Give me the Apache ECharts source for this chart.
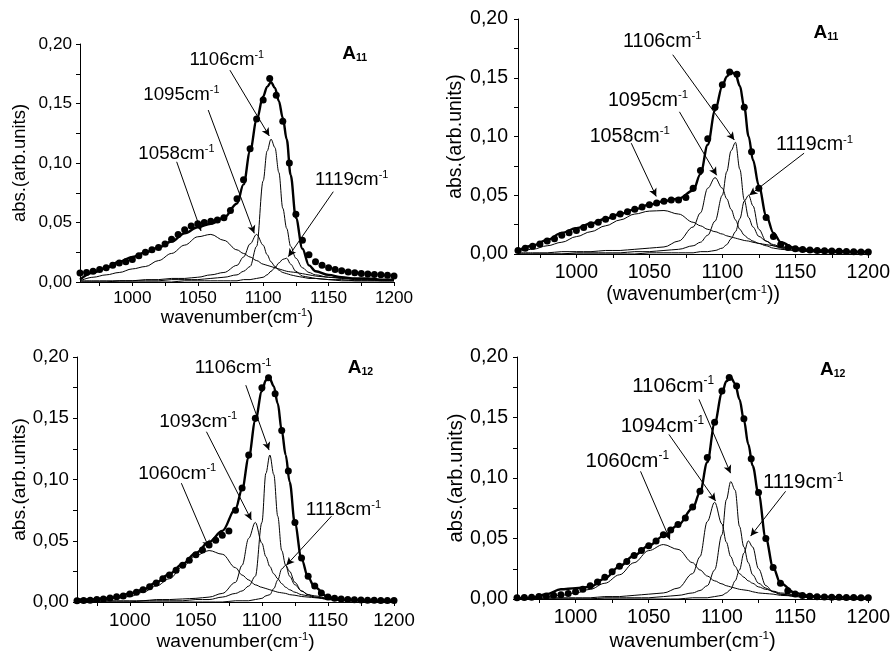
<!DOCTYPE html>
<html><head><meta charset="utf-8">
<script src="https://cdn.jsdelivr.net/npm/echarts@6/dist/echarts.min.js"></script>
<style>html,body{margin:0;padding:0;background:#fff}#c{width:893px;height:655px}</style>
</head><body><div id="c"></div>
<script>
// ---------- shared x grids ----------
const X = [960,970,980,990,1000,1010,1020,1030,1040,1050,1060,1070,1080,1085,1090,1095,1100,1103,1106,1109,1112,1115,1118,1121,1125,1130,1135,1140,1150,1160,1170,1180,1190,1200];
const DOT_X = [960,965,970,975,980,985,990,995,1000,1005,1010,1015,1020,1025,1030,1035,1040,1045,1050,1055,1060,1065,1070,1075,1080,1085,1090,1095,1100,1105,1110,1115,1120,1125,1130,1135,1140,1145,1150,1155,1160,1165,1170,1175,1180,1185,1190,1195,1200];
const X_TICK_LABELS = [1000,1050,1100,1150,1200];
const X_TICKS = [975,1000,1025,1050,1075,1100,1125,1150,1175,1200];
const Y_TICKS = [0,0.025,0.05,0.075,0.1,0.125,0.15,0.175,0.2];

// ---------- panel 1 (top left, A11) ----------
const p1_dots = [0.0075,0.008,0.009,0.0104,0.012,0.014,0.016,0.017,0.019,0.022,0.025,0.027,0.029,0.032,0.036,0.040,0.044,0.047,0.049,0.050,0.051,0.052,0.054,0.060,0.070,0.086,0.112,0.137,0.153,0.171,0.157,0.135,0.100,0.057,0.035,0.023,0.017,0.014,0.012,0.0105,0.0095,0.0085,0.0078,0.0072,0.0068,0.0063,0.006,0.0056,0.005];
const p1_total = [0.002,0.008,0.012,0.017,0.021,0.025,0.029,0.034,0.041,0.046,0.049,0.054,0.066,0.082,0.110,0.136,0.156,0.164,0.168,0.163,0.152,0.138,0.120,0.090,0.054,0.028,0.014,0.009,0.006,0.004,0.003,0.003,0.002,0.002];
const p1_c1058 = [0.001,0.004,0.006,0.008,0.011,0.013,0.018,0.024,0.031,0.038,0.040,0.035,0.027,0.024,0.021,0.018,0.015,0.014,0.013,0.012,0.011,0.010,0.009,0.0085,0.008,0.007,0.006,0.005,0.004,0.0035,0.003,0.0025,0.002,0.002];
const p1_c1095 = [0.001,0.001,0.001,0.001,0.001,0.002,0.002,0.003,0.003,0.004,0.006,0.008,0.014,0.021,0.032,0.040,0.031,0.023,0.017,0.013,0.010,0.008,0.007,0.006,0.005,0.004,0.003,0.003,0.002,0.002,0.001,0.001,0.001,0.001];
const p1_c1106 = [0,0,0,0.001,0.001,0.001,0.001,0.002,0.002,0.002,0.003,0.004,0.006,0.009,0.013,0.030,0.085,0.110,0.120,0.113,0.092,0.062,0.045,0.030,0.020,0.012,0.008,0.006,0.004,0.003,0.002,0.002,0.001,0.001];
const p1_c1119 = [0,0,0,0,0,0,0,0,0.001,0.001,0.001,0.001,0.001,0.002,0.002,0.003,0.004,0.006,0.009,0.012,0.016,0.019,0.020,0.015,0.009,0.005,0.004,0.003,0.002,0.001,0.001,0.001,0.001,0.001];

// ---------- panel 2 (top right, A11) ----------
const p2_dots = [0.003,0.005,0.0065,0.0085,0.011,0.013,0.016,0.018,0.020,0.0225,0.025,0.027,0.0295,0.032,0.034,0.036,0.038,0.040,0.042,0.0435,0.045,0.046,0.046,0.048,0.056,0.071,0.098,0.125,0.144,0.155,0.153,0.125,0.087,0.056,0.031,0.015,0.008,0.0055,0.0045,0.0038,0.0033,0.003,0.0028,0.0026,0.0024,0.0022,0.002,0.0018,0.0017];
const p2_total = [0.003,0.007,0.012,0.018,0.022,0.026,0.030,0.034,0.038,0.042,0.045,0.047,0.054,0.068,0.093,0.122,0.143,0.151,0.155,0.153,0.143,0.125,0.100,0.080,0.058,0.033,0.018,0.010,0.005,0.0035,0.003,0.0025,0.002,0.002];
const p2_c1058 = [0.002,0.004,0.007,0.010,0.0148,0.019,0.024,0.029,0.034,0.0365,0.037,0.034,0.027,0.024,0.021,0.019,0.017,0.0155,0.0145,0.0135,0.0125,0.0115,0.011,0.010,0.009,0.008,0.007,0.006,0.0045,0.0037,0.003,0.0024,0.0019,0.0014];
const p2_c1095 = [0.001,0.001,0.001,0.002,0.002,0.002,0.003,0.003,0.004,0.005,0.006,0.011,0.023,0.035,0.056,0.065,0.056,0.047,0.038,0.029,0.021,0.016,0.013,0.011,0.009,0.007,0.005,0.004,0.003,0.002,0.002,0.001,0.001,0.001];
const p2_c1106 = [0,0,0,0,0.001,0.001,0.001,0.001,0.002,0.002,0.003,0.004,0.007,0.010,0.016,0.028,0.050,0.070,0.088,0.095,0.072,0.046,0.031,0.023,0.015,0.011,0.008,0.006,0.004,0.003,0.002,0.002,0.001,0.001];
const p2_c1119 = [0,0,0,0,0,0,0,0,0,0.001,0.001,0.001,0.001,0.002,0.002,0.003,0.005,0.008,0.013,0.019,0.030,0.045,0.050,0.041,0.021,0.011,0.007,0.005,0.003,0.002,0.001,0.001,0.001,0.001];

// ---------- panel 3 (bottom left, A12) ----------
const p3_dots = [0.001,0.0012,0.0015,0.002,0.0025,0.0033,0.0042,0.005,0.0065,0.008,0.010,0.0125,0.0155,0.019,0.022,0.026,0.030,0.034,0.0385,0.0425,0.0465,0.0505,0.0545,0.058,0.075,0.093,0.120,0.150,0.175,0.183,0.170,0.140,0.107,0.065,0.036,0.021,0.013,0.0073,0.004,0.003,0.0025,0.002,0.0018,0.0016,0.0015,0.0014,0.0013,0.0012,0.0012];
const p3_total = [0.002,0.002,0.003,0.004,0.007,0.010,0.016,0.023,0.031,0.040,0.049,0.058,0.076,0.092,0.118,0.148,0.172,0.181,0.182,0.176,0.162,0.140,0.120,0.098,0.064,0.035,0.020,0.012,0.004,0.002,0.0015,0.0012,0.001,0.001];
const p3_c1060 = [0.001,0.0015,0.002,0.003,0.0045,0.008,0.013,0.019,0.029,0.038,0.042,0.039,0.028,0.022,0.018,0.014,0.012,0.011,0.010,0.009,0.008,0.0075,0.007,0.006,0.0055,0.0045,0.004,0.0035,0.0025,0.002,0.0015,0.001,0.001,0.001];
const p3_c1093 = [0,0,0.001,0.001,0.001,0.001,0.002,0.002,0.0025,0.003,0.004,0.007,0.016,0.030,0.052,0.065,0.048,0.037,0.029,0.023,0.019,0.015,0.012,0.010,0.008,0.006,0.005,0.004,0.003,0.002,0.0015,0.001,0.001,0.001];
const p3_c1106 = [0,0,0,0,0,0.001,0.001,0.001,0.001,0.002,0.002,0.004,0.007,0.009,0.013,0.021,0.065,0.105,0.120,0.104,0.070,0.042,0.030,0.021,0.014,0.009,0.006,0.005,0.003,0.002,0.0015,0.001,0.001,0.001];
const p3_c1118 = [0,0,0,0,0,0,0,0,0,0,0,0,0.001,0.001,0.001,0.002,0.003,0.005,0.006,0.011,0.018,0.027,0.030,0.025,0.016,0.009,0.006,0.004,0.002,0.001,0.001,0.001,0.001,0.001];

// ---------- panel 4 (bottom right, A12) ----------
const p4_dots = [0.001,0.0012,0.0015,0.002,0.0025,0.003,0.0035,0.0045,0.006,0.008,0.011,0.014,0.018,0.0225,0.027,0.031,0.036,0.040,0.044,0.048,0.053,0.057,0.0615,0.067,0.076,0.089,0.117,0.146,0.172,0.183,0.176,0.149,0.116,0.088,0.050,0.026,0.013,0.0068,0.0042,0.0028,0.0022,0.0018,0.0016,0.0015,0.0014,0.0013,0.0012,0.0011,0.001];
const p4_total = [0.0005,0.001,0.004,0.008,0.009,0.010,0.017,0.027,0.036,0.044,0.052,0.061,0.075,0.088,0.113,0.145,0.170,0.180,0.183,0.178,0.165,0.148,0.128,0.110,0.087,0.050,0.026,0.013,0.005,0.0025,0.0018,0.0015,0.0012,0.001];
const p4_c1060 = [0.001,0.001,0.002,0.003,0.005,0.008,0.013,0.020,0.030,0.040,0.045,0.041,0.030,0.024,0.019,0.015,0.0125,0.011,0.010,0.009,0.008,0.0075,0.007,0.006,0.005,0.0045,0.004,0.003,0.0025,0.002,0.0015,0.001,0.001,0.001];
const p4_c1094 = [0,0,0.001,0.001,0.001,0.001,0.002,0.002,0.003,0.004,0.005,0.009,0.021,0.035,0.064,0.080,0.062,0.047,0.035,0.027,0.021,0.018,0.015,0.013,0.010,0.008,0.0065,0.005,0.0035,0.0025,0.002,0.0015,0.001,0.001];
const p4_c1106 = [0,0,0,0,0,0,0.001,0.001,0.001,0.001,0.002,0.003,0.005,0.007,0.011,0.024,0.053,0.082,0.097,0.090,0.060,0.043,0.030,0.020,0.013,0.009,0.006,0.004,0.003,0.002,0.0015,0.001,0.001,0.001];
const p4_c1119 = [0,0,0,0,0,0,0,0,0,0,0,0,0.001,0.001,0.001,0.002,0.003,0.005,0.008,0.015,0.024,0.038,0.048,0.043,0.025,0.011,0.006,0.004,0.002,0.001,0.001,0.001,0.001,0.001];

// ---------- annotation texts ----------
const p1_peaks = ['1106','1095','1058','1119'];
const p2_peaks = ['1106','1095','1058','1119'];
const p3_peaks = ['1106','1093','1060','1118'];
const p4_peaks = ['1106','1094','1060','1119'];
const sampleNames = ['11','11','12','12'];

const FONT = '"Liberation Sans", Arial, Helvetica, sans-serif';

const panels = [
  { grid:{left:80, top:44, width:314, height:238}, dots:p1_dots, total:p1_total,
    comps:[p1_c1058,p1_c1095,p1_c1106,p1_c1119], peaks:p1_peaks,
    ann:[[1043.6,0.1866,1074.6,0.178,1104.7,0.1227],[1008.4,0.157,1058,0.1445,1093.2,0.0409],
         [1004.6,0.108,1033.9,0.101,1052.5,0.0429],[1139.6,0.0857,1153.6,0.0759,1119.2,0.0213]],
    tag:[1160.5,0.192], xname:'{n|wavenumber(cm}{s|-1}{n|)}',
    tick:17.2, nameFs:18.5, annFs:18.7, xm:8, ym:8, xGap:26, yGap:51 },
  { grid:{left:518, top:19, width:351, height:235}, dots:p2_dots, total:p2_total,
    comps:[p2_c1058,p2_c1095,p2_c1106,p2_c1119], peaks:p2_peaks,
    ann:[[1031.9,0.181,1066,0.1696,1108.2,0.097],[1021.6,0.131,1070.6,0.121,1096.1,0.067],
         [1009.1,0.100,1037.6,0.0943,1054.7,0.049],[1136.7,0.093,1156,0.0858,1118.5,0.050]],
    tag:[1162.5,0.188], xname:'{n|(wavenumber(cm}{s|-1}{n|))}',
    tick:19.5, nameFs:19.5, annFs:19.7, xm:9, ym:10, xGap:28, yGap:52 },
  { grid:{left:77, top:357, width:317, height:245}, dots:p3_dots, total:p3_total,
    comps:[p3_c1060,p3_c1093,p3_c1106,p3_c1118], peaks:p3_peaks,
    ann:[[1049.2,0.191,1087.8,0.177,1105.4,0.124],[1022.2,0.1475,1058,0.139,1092,0.067],
         [1006.3,0.105,1039,0.097,1060,0.044],[1133.2,0.075,1152.6,0.070,1118.5,0.030]],
    tag:[1165,0.191], xname:'{n|wavenumber(cm}{s|-1}{n|)}',
    tick:18.7, nameFs:19.2, annFs:19.2, xm:9, ym:8, xGap:29, yGap:48 },
  { grid:{left:517, top:357, width:352, height:242}, dots:p4_dots, total:p4_total,
    comps:[p4_c1060,p4_c1094,p4_c1106,p4_c1119], peaks:p4_peaks,
    ann:[[1038.7,0.176,1084.3,0.165,1105.9,0.104],[1030.8,0.143,1063.8,0.136,1095.7,0.081],
         [1006.8,0.114,1044.4,0.1055,1064.5,0.049],[1128,0.096,1143.5,0.089,1119.6,0.052]],
    tag:[1167,0.1895], xname:'{n|wavenumber(cm}{s|-1}{n|)}',
    tick:19.5, nameFs:20.2, annFs:20.5, xm:9, ym:9, xGap:31, yGap:50 }
];

const grid = [], xAxis = [], yAxis = [], series = [];
panels.forEach((p, i) => {
  grid.push(Object.assign({containLabel:false}, p.grid));
  xAxis.push({
    type:'value', gridIndex:i, min:960, max:1200,
    name:p.xname, nameLocation:'middle', nameGap:p.xGap,
    nameTextStyle:{ rich:{ n:{fontFamily:FONT, fontSize:p.nameFs, color:'#000', lineHeight:p.nameFs+2},
                           s:{fontFamily:FONT, fontSize:p.nameFs*0.58, color:'#000', verticalAlign:'top', lineHeight:p.nameFs*0.7} } },
    axisLine:{show:true, onZero:false, lineStyle:{color:'#000', width:1}},
    axisTick:{show:true, inside:false, length:4, customValues:X_TICKS, lineStyle:{color:'#000'}},
    axisLabel:{customValues:X_TICK_LABELS, fontFamily:FONT, fontSize:p.tick, color:'#000', margin:p.xm,
               formatter:v => String(Math.round(v))},
    splitLine:{show:false}
  });
  yAxis.push({
    type:'value', gridIndex:i, min:0, max:0.2, interval:0.05,
    name:'abs.(arb.units)', nameLocation:'middle', nameGap:p.yGap, nameRotate:90,
    nameTextStyle:{fontFamily:FONT, fontSize:p.nameFs, color:'#000'},
    axisLine:{show:true, onZero:false, lineStyle:{color:'#000', width:1}},
    axisTick:{show:true, inside:false, length:4, customValues:Y_TICKS, lineStyle:{color:'#000'}},
    axisLabel:{fontFamily:FONT, fontSize:p.tick, color:'#000', margin:p.ym,
               formatter:v => v.toFixed(2).replace('.', ',')},
    splitLine:{show:false}
  });
  p.comps.forEach(c => {
    series.push({ type:'line', xAxisIndex:i, yAxisIndex:i, silent:true, showSymbol:false,
      smooth:0.35, smoothMonotone:'x', z:2,
      lineStyle:{color:'#000', width:1}, data:X.map((x,k)=>[x,c[k]]) });
  });
  series.push({ type:'line', xAxisIndex:i, yAxisIndex:i, silent:true, showSymbol:false,
    smooth:0.35, smoothMonotone:'x', z:3,
    lineStyle:{color:'#000', width:2.4}, data:X.map((x,k)=>[x,p.total[k]]) });
  series.push({ type:'scatter', xAxisIndex:i, yAxisIndex:i, silent:true, z:4,
    symbol:'circle', symbolSize:7, itemStyle:{color:'#000', opacity:1},
    data:DOT_X.map((x,k)=>[x,p.dots[k]]) });
  // peak annotations
  series.push({ type:'scatter', xAxisIndex:i, yAxisIndex:i, silent:true, z:5,
    symbolSize:0, itemStyle:{color:'#000', opacity:1},
    data:p.ann.map((a,k)=>({value:[a[0],a[1]], name:p.peaks[k]})),
    label:{show:true, position:'right', distance:0, color:'#000', opacity:1,
      formatter:q => '{n|' + q.name + 'cm}{s|-1}',
      rich:{ n:{fontFamily:FONT, fontSize:p.annFs, color:'#000', lineHeight:p.annFs+2},
             s:{fontFamily:FONT, fontSize:p.annFs*0.58, color:'#000', verticalAlign:'top', lineHeight:p.annFs*0.7} } },
    markLine:{ silent:true, symbol:['none','arrow'], symbolSize:[6,8], animation:false,
      label:{show:false}, lineStyle:{color:'#000', width:1, type:'solid', opacity:1},
      data:p.ann.map(a=>[{coord:[a[2],a[3]]},{coord:[a[4],a[5]]}]) }
  });
  // sample tag
  series.push({ type:'scatter', xAxisIndex:i, yAxisIndex:i, silent:true, z:5,
    symbolSize:0, itemStyle:{color:'#000', opacity:1},
    data:[{value:p.tag, name:sampleNames[i]}],
    label:{show:true, position:'right', distance:0, color:'#000', opacity:1,
      formatter:q => '{a|A}{b|' + q.name + '}',
      rich:{ a:{fontFamily:FONT, fontWeight:'bold', fontSize:19, color:'#000', lineHeight:20},
             b:{fontFamily:FONT, fontWeight:'bold', fontSize:10.5, color:'#000', verticalAlign:'bottom', lineHeight:13} } }
  });
});

const chart = echarts.init(document.getElementById('c'), null, {renderer:'canvas'});
chart.setOption({ animation:false, backgroundColor:'#fff', grid, xAxis, yAxis, series });
</script>
</body></html>
